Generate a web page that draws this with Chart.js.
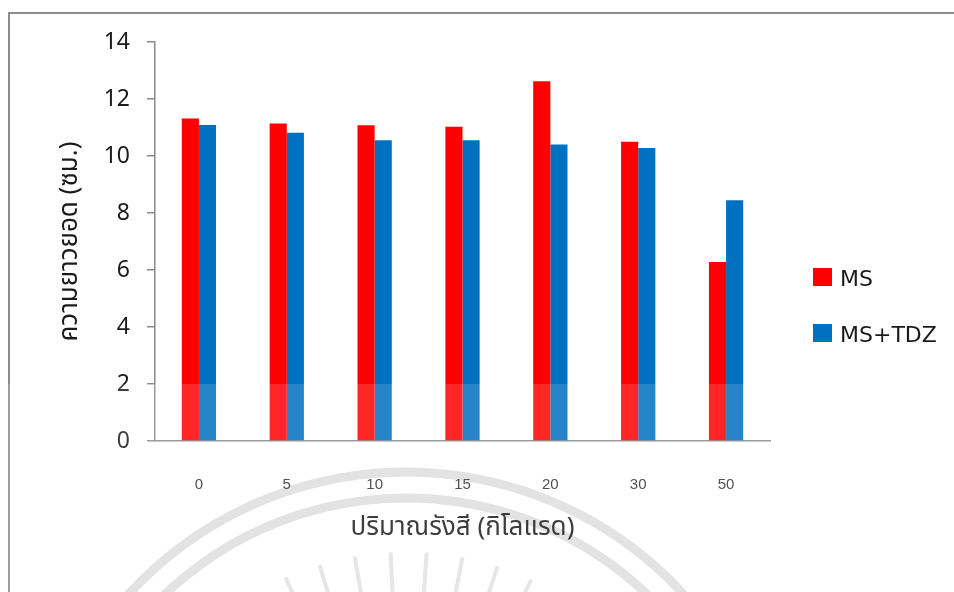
<!DOCTYPE html>
<html>
<head>
<meta charset="utf-8">
<script src="https://cdn.jsdelivr.net/npm/chart.js@4/dist/chart.umd.min.js"></script>
<style>
  html, body { margin: 0; padding: 0; background: #fff; }
  #wrap { width: 954px; height: 592px; }
</style>
</head>
<body>
<div id="wrap"><canvas id="chart" width="954" height="592"></canvas></div>
<script>
// ----------------------
// Data
// ----------------------
const doses = ['0', '5', '10', '15', '20', '30', '50'];
const msValues = [11.32, 11.14, 11.08, 11.03, 12.62, 10.5, 6.28];
const msTdzValues = [11.09, 10.82, 10.55, 10.55, 10.4, 10.28, 8.45];
const seriesNames = ['MS', 'MS+TDZ'];
const seriesColors = ['#ff0000', '#0070c0'];
const yTicks = [0, 2, 4, 6, 8, 10, 12, 14];

const yTitle = 'ความยาวยอด (ซม.)';
const xTitle = 'ปริมาณรังสี (กิโลแรด)';

const thaiFont = '"Noto Sans Thai", "Noto Sans", "DejaVu Sans", sans-serif';
const axisGrey = '#8a8a8a';

// frame, faint watermark, legend and the washed-out lower strip
const backdrop = {
  id: 'backdrop',
  beforeDraw(chart) {
    const c = chart.ctx;
    c.save();
    c.fillStyle = '#ffffff';
    c.fillRect(0, 0, chart.width, chart.height);

    // watermark arcs
    c.strokeStyle = '#dedede';
    c.lineWidth = 9;
    c.beginPath(); c.arc(406, 848, 376, Math.PI * 1.05, Math.PI * 1.98); c.stroke();
    c.beginPath(); c.arc(406, 848, 350, Math.PI * 1.05, Math.PI * 1.98); c.stroke();
    // rays
    c.lineWidth = 4;
    c.strokeStyle = '#e2e2e2';
    for (let a = -128; a <= -52; a += 7) {
      const r = a * Math.PI / 180;
      c.beginPath();
      c.moveTo(406 + Math.cos(r) * 230, 848 + Math.sin(r) * 230);
      c.lineTo(406 + Math.cos(r) * 296, 848 + Math.sin(r) * 296);
      c.stroke();
    }

    // outer frame
    c.strokeStyle = '#8c8c8c';
    c.lineWidth = 2;
    c.strokeRect(9, 13, 1000, 700);
    c.restore();
  },
  afterDraw(chart) {
    const c = chart.ctx;
    c.save();
    // legend
    c.font = '22px "DejaVu Sans", sans-serif';
    c.textBaseline = 'middle';
    chart.data.datasets.forEach((ds, i) => {
      const y = 279 + i * 56;
      c.fillStyle = ds.backgroundColor;
      c.fillRect(813, y - 11, 19, 18);
      c.fillStyle = '#1a1a1a';
      c.fillText(ds.label, 840, y + 1);
    });
    // scanned page: lower part a little washed out
    const yCut = chart.scales.y.getPixelForValue(2);
    c.fillStyle = 'rgba(255,255,255,0.15)';
    c.fillRect(0, yCut, chart.width, chart.height - yCut);
    c.restore();
  }
};

new Chart(document.getElementById('chart'), {
  type: 'bar',
  data: {
    labels: doses,
    datasets: [
      { label: seriesNames[0], data: msValues, backgroundColor: seriesColors[0] },
      { label: seriesNames[1], data: msTdzValues, backgroundColor: seriesColors[1] }
    ]
  },
  options: {
    responsive: false,
    animation: false,
    devicePixelRatio: 1,
    layout: { padding: { left: 52, top: 42, right: 184, bottom: 43 } },
    datasets: { bar: { barPercentage: 1, categoryPercentage: 0.39 } },
    plugins: {
      legend: { display: false },
      tooltip: { enabled: false }
    },
    scales: {
      x: {
        grid: { display: false },
        border: { color: axisGrey, width: 1.5 },
        ticks: { color: '#333', padding: 27, font: { family: '"Liberation Sans", Arial, sans-serif', size: 15 } },
        title: { display: true, text: xTitle, color: '#1a1a1a', font: { family: thaiFont, size: 26 } },
        afterFit: s => { s.height = 108; }
      },
      y: {
        min: 0,
        max: 14,
        afterBuildTicks: s => { s.ticks = yTicks.map(v => ({ value: v })); },
        grid: { drawOnChartArea: false, drawTicks: true, tickLength: 8, color: axisGrey, lineWidth: 1.5 },
        border: { color: axisGrey, width: 1.5 },
        ticks: { color: '#1a1a1a', padding: 17, font: { family: '"Noto Sans", sans-serif', size: 23 } },
        title: { display: true, text: yTitle, color: '#1a1a1a', font: { family: thaiFont, size: 26 } },
        afterFit: s => { s.width = 103; }
      }
    }
  },
  plugins: [backdrop]
});
</script>
</body>
</html>
